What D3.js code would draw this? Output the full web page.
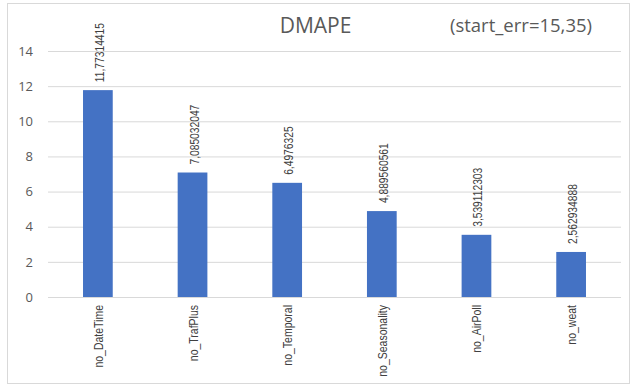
<!DOCTYPE html>
<html>
<head>
<meta charset="utf-8">
<script src="https://cdn.jsdelivr.net/npm/d3@7"></script>
<style>
  html, body { margin: 0; padding: 0; background: #fff; }
  svg { display: block; }
</style>
</head>
<body>
<svg id="chart" width="636" height="385"></svg>
<script>
// DMAPE per removed feature group
const categories = ["no_DateTime", "no_TrafPlus", "no_Temporal", "no_Seasonality", "no_AirPoll", "no_weat"];
const values = [11.77314415, 7.085032047, 6.4976325, 4.889560561, 3.539112303, 2.562934888];
const valueLabels = ["11,77314415", "7,085032047", "6,4976325", "4,889560561", "3,539112303", "2,562934888"];
const yTicks = [0, 2, 4, 6, 8, 10, 12, 14];

const svg = d3.select("#chart");
const W = 636, H = 385;
const margin = { left: 48, right: 15, top: 51, bottom: 88 };
const narrowFont = "'Liberation Sans', Arial, sans-serif";

// chart frame
svg.append("rect")
  .attr("x", 7.5).attr("y", 3.5)
  .attr("width", 622).attr("height", 380)
  .attr("fill", "#fff").attr("stroke", "#d9d9d9").attr("stroke-width", 1);

const x = d3.scaleBand()
  .domain(categories)
  .range([margin.left, W - margin.right])
  .paddingInner(0.686).paddingOuter(0.37);

const y = d3.scaleLinear()
  .domain([0, 14])
  .range([H - margin.bottom, margin.top]);

// gridlines + y tick labels
const yAxis = d3.axisLeft(y).tickValues(yTicks).tickSize(-(W - margin.right - margin.left)).tickPadding(15);
const gy = svg.append("g").attr("transform", `translate(${margin.left},0)`).call(yAxis);
gy.select(".domain").remove();
gy.selectAll(".tick line").attr("stroke", "#d9d9d9").attr("stroke-width", 1);
gy.selectAll(".tick text")
  .attr("fill", "#595959")
  .style("font-family", "'Open Sans', sans-serif")
  .style("font-size", "13px");

// bars
svg.append("g").selectAll("rect")
  .data(values)
  .join("rect")
  .attr("x", (d, i) => x(categories[i]))
  .attr("width", x.bandwidth())
  .attr("y", d => y(d))
  .attr("height", d => y(0) - y(d))
  .attr("fill", "#4472c4");

// value labels, rotated and condensed
svg.append("g").selectAll("text")
  .data(values)
  .join("text")
  .attr("transform", (d, i) => `translate(${x(categories[i]) + x.bandwidth() / 2 + 6},${y(d) - 8}) rotate(-90) scale(0.76,1)`)
  .attr("text-anchor", "start")
  .attr("fill", "#404040")
  .style("font-family", narrowFont)
  .style("font-size", "13.5px")
  .text((d, i) => valueLabels[i]);

// category labels, rotated and condensed
svg.append("g").selectAll("text")
  .data(categories)
  .join("text")
  .attr("transform", d => `translate(${x(d) + x.bandwidth() / 2 + 5},${y(0) + 8}) rotate(-90) scale(0.84,1)`)
  .attr("text-anchor", "end")
  .attr("fill", "#404040")
  .style("font-family", narrowFont)
  .style("font-size", "12.5px")
  .text(d => d);

// titles
svg.append("text")
  .attr("x", 315.5).attr("y", 33)
  .attr("text-anchor", "middle")
  .attr("fill", "#595959")
  .style("font-family", "'Open Sans', sans-serif")
  .style("font-size", "21px")
  .text("DMAPE");

svg.append("text")
  .attr("x", 521).attr("y", 32)
  .attr("text-anchor", "middle")
  .attr("fill", "#595959")
  .style("font-family", "'Open Sans', sans-serif")
  .style("font-size", "18.5px")
  .text("(start_err=15,35)");
</script>
</body>
</html>
